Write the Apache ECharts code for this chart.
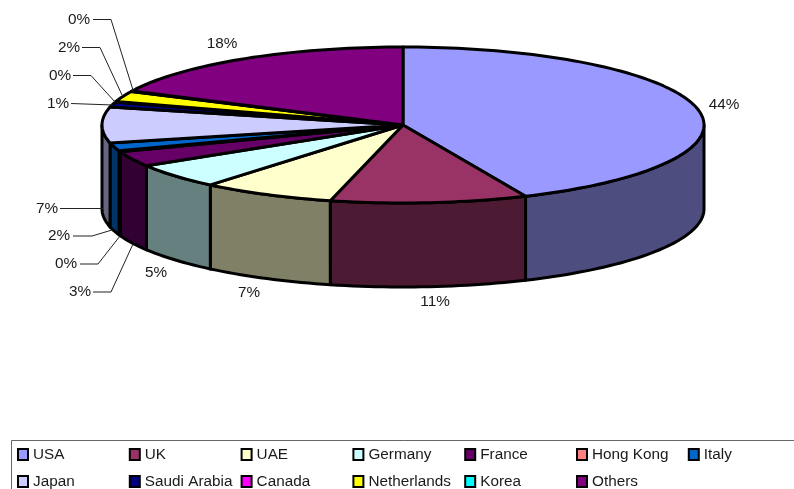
<!DOCTYPE html>
<html><head><meta charset="utf-8">
<style>html,body{margin:0;padding:0;background:#fff;overflow:hidden}#c{width:794px;height:489px}</style>
<script src="https://cdn.jsdelivr.net/npm/echarts@6/dist/echarts.min.js"></script>
</head><body><div id="c"></div>
<script>
const countries = ['USA','UK','UAE','Germany','France','Hong Kong','Italy','Japan','Saudi Arabia','Canada','Netherlands','Korea','Others'];
const shares = [43.5,10.6,7.2,5.2,3.2,0.2,1.7,7.4,1.1,0.1,2.2,0.1,17.9];
const topColors = ['#9999FF','#993366','#FFFFCC','#CCFFFF','#660066','#FF8080','#0066CC','#CCCCFF','#000080','#FF00FF','#FFFF00','#00FFFF','#800080'];
const wallColors = ['#4D4D80','#4D1A33','#808066','#668080','#330033','#804040','#003366','#666680','#000040','#800080','#808000','#008080','#400040'];
const legendRows = [countries.slice(0, 7), countries.slice(7)];

// Label placement: text centre, then leader line points (if any)
const labelPlaces = [
  {at:[724,105]},
  {at:[435,302]},
  {at:[249,293]},
  {at:[156,273]},
  {at:[80,292], line:[[93,292],[111,292],[133,244]]},
  {at:[66,264], line:[[80,264],[98,264],[120,236]]},
  {at:[59,236], line:[[73,236],[92,236],[112,230]]},
  {at:[47,209], line:[[60,208.5],[103,208.5]]},
  {at:[58,104], line:[[71,103.5],[113,105]]},
  {at:[60,76],  line:[[73,75.5],[91,75.5],[115,102]]},
  {at:[69,48],  line:[[82,47.5],[100,47.5],[122,95]]},
  {at:[79,20],  line:[[93,19.5],[111,19.5],[133,90]]},
  {at:[222,44]}
];

const CX = 403, CY = 125, RX = 301, RY = 78, DEPTH = 84;
const FONT = '15.3px "Liberation Sans", Arial, sans-serif';
const INK = '#1a1a1a';
const total = shares.reduce((a, b) => a + b, 0);
const pt = (deg, dy) => {
  const r = deg * Math.PI / 180;
  return [CX + RX * Math.sin(r), CY - RY * Math.cos(r) + (dy || 0)];
};
const arc = (a, b, dy) => {
  const n = Math.max(2, Math.ceil(Math.abs(b - a) / 1.5));
  const out = [];
  for (let i = 0; i <= n; i++) out.push(pt(a + (b - a) * i / n, dy));
  return out;
};

let running = 0;
const series = countries.map((name, i) => {
  const start = running / total * 360;
  running += shares[i];
  const end = running / total * 360;
  return {
    type: 'custom', name, coordinateSystem: 'none', silent: true, animation: false,
    itemStyle: {color: topColors[i]},
    data: [shares[i]],
    renderItem: () => {
      const children = [];
      const line = {stroke: '#000', lineWidth: 3, lineJoin: 'round'};
      const a = Math.max(start, 90), b = Math.min(end, 270);
      if (b > a) {
        const front = arc(a, b, 0), back = arc(b, a, DEPTH);
        children.push({type: 'polygon', z2: 10 + i, shape: {points: front.concat(back)},
          style: Object.assign({fill: wallColors[i]}, line)});
      }
      children.push({type: 'polygon', z2: 50 + i, shape: {points: [[CX, CY]].concat(arc(start, end, 0))},
        style: Object.assign({fill: topColors[i]}, line)});
      const place = labelPlaces[i];
      if (place.line) {
        children.push({type: 'polyline', z2: 80, shape: {points: place.line},
          style: {stroke: '#222', lineWidth: 1, fill: null}});
      }
      children.push({type: 'text', z2: 90, x: place.at[0], y: place.at[1],
        style: {text: Math.round(shares[i]) + '%', font: FONT, fill: INK, align: 'center', verticalAlign: 'middle'}});
      return {type: 'group', children};
    }
  };
});

const legendFont = {lineHeight: 19, fontSize: 15.3, fontFamily: '"Liberation Sans", Arial, sans-serif', color: INK};
const legendBase = {
  left: 17, padding: 0, itemGap: 0, itemWidth: 10, itemHeight: 11,
  icon: 'rect', selectedMode: false,
  itemStyle: {borderColor: '#000', borderWidth: 2},
  formatter: n => (n === 'Italy' ? '{e|' : '{t|') + n + '}',
  textStyle: {rich: {t: Object.assign({width: 95.8}, legendFont), e: legendFont}}
};

const chart = echarts.init(document.getElementById('c'), null, {renderer: 'canvas'});
chart.setOption({
  animation: false,
  backgroundColor: '#fff',
  legend: legendRows.map((row, r) => Object.assign({}, legendBase, {top: r ? 474 : 447, data: row})),
  graphic: [{type: 'rect', silent: true, shape: {x: 11.5, y: 440.5, width: 800, height: 70},
    style: {fill: null, stroke: '#666', lineWidth: 1}}],
  series
});
</script></body></html>
